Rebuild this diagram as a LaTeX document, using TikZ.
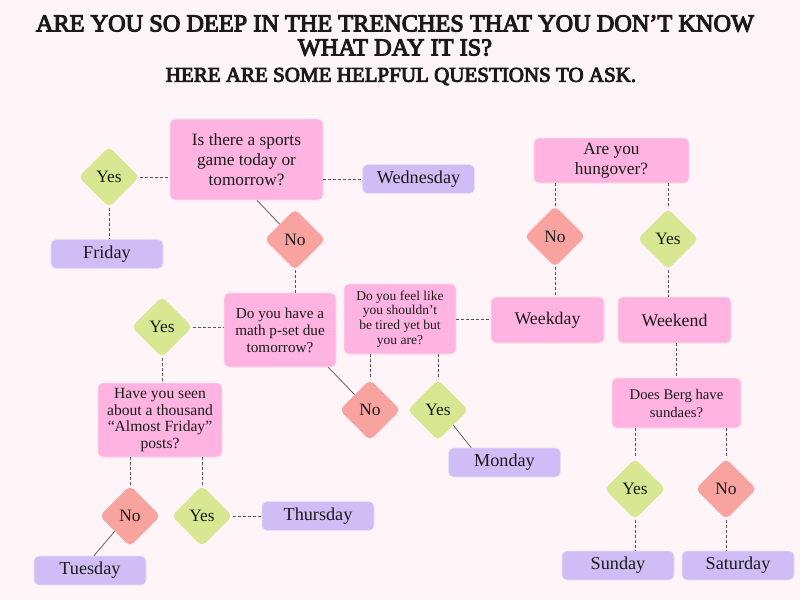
\documentclass[tikz,border=0pt]{standalone}
\usepackage{fontspec}
\setmainfont{Liberation Serif}
\newfontfamily\titlefont{Liberation Serif}[FakeBold=4.2]
\usetikzlibrary{shapes.geometric,calc}
\definecolor{bg}{HTML}{FFF5F9}
\definecolor{qpink}{HTML}{FFB3E1}
\definecolor{dpurple}{HTML}{D0BDF6}
\definecolor{ygreen}{HTML}{D8E892}
\definecolor{nred}{HTML}{F9A3A0}
\definecolor{lnk}{HTML}{555555}
\definecolor{ink}{HTML}{1A1A1A}
\begin{document}
\begin{tikzpicture}[x=1pt,y=-1pt,
  qbox/.style={fill=qpink, draw=white!50!qpink, line width=0.6pt, rounded corners=5pt, align=center, inner sep=0pt, text=ink},
  dbox/.style={fill=dpurple, draw=white!50!dpurple, line width=0.6pt, rounded corners=5pt, inner sep=0pt, text=ink,
    minimum width=112pt, minimum height=29pt, font=\fontsize{18.2}{20}\selectfont},
  dia/.style={diamond, rounded corners=5pt, minimum width=61pt, minimum height=61pt, inner sep=0pt, text=ink,
    font=\fontsize{17.4}{18}\selectfont},
  yesd/.style={dia, fill=ygreen},
  nod/.style={dia, fill=nred},
  dl/.style={draw=lnk, dash pattern=on 3pt off 2pt, line width=1pt},
  sl/.style={draw=lnk, line width=0.7pt}]
\fill[bg] (0,0) rectangle (800,600);
\useasboundingbox (0,0) rectangle (800,600);

% titles
\node[font=\titlefont\fontsize{24.3}{24}\selectfont, align=center, text=ink] (t1) at (395,35.5)
  {ARE YOU SO DEEP IN THE TRENCHES THAT YOU DON’T KNOW\\WHAT DAY IT IS?};
\node[font=\titlefont\fontsize{21}{22}\selectfont, text=ink] (t2) at (401,76.5) {HERE ARE SOME HELPFUL QUESTIONS TO ASK.};

% questions
\node[qbox, minimum width=153pt, minimum height=81pt, font=\fontsize{17.3}{20}\selectfont] (q1) at (246.5,159.5)
  {Is there a sports\\game today or\\tomorrow?};
\node[qbox, minimum width=112pt, minimum height=74pt, font=\fontsize{15.2}{17}\selectfont] (q2) at (280,330)
  {Do you have a\\math p-set due\\tomorrow?};
\node[qbox, minimum width=124pt, minimum height=74pt, font=\fontsize{15.6}{16.5}\selectfont] (q3) at (160,420)
  {Have you seen\\about a thousand\\“Almost Friday”\\posts?};
\node[qbox, minimum width=112pt, minimum height=70pt, font=\fontsize{13.5}{14.7}\selectfont] (q4) at (400,319)
  {Do you feel like\\you shouldn’t\\be tired yet but\\you are?};
\node[qbox, minimum width=155pt, minimum height=45pt, font=\fontsize{17.3}{20}\selectfont] (q5) at (611.5,160.5)
  {Are you\\hungover?};
\node[qbox, minimum width=113pt, minimum height=46pt, font=\fontsize{17.8}{20}\selectfont] (wd) at (547.5,320) {Weekday};
\node[qbox, minimum width=113pt, minimum height=46pt, font=\fontsize{17.8}{20}\selectfont] (we) at (674.5,320) {Weekend};
\node[qbox, minimum width=129pt, minimum height=50pt, font=\fontsize{14.7}{18}\selectfont] (q6) at (676.5,403)
  {Does Berg have\\sundaes?};

% diamonds
\node[yesd] (y1) at (109,177) {Yes};
\node[nod]  (n1) at (295,239.5) {No};
\node[yesd] (y2) at (162,327) {Yes};
\node[nod]  (n3) at (130,516) {No};
\node[yesd] (y3) at (202,516) {Yes};
\node[nod]  (n4) at (370,410) {No};
\node[yesd] (y4) at (438,410) {Yes};
\node[nod]  (n5) at (555,236.5) {No};
\node[yesd] (y5) at (668,239) {Yes};
\node[yesd] (y6) at (635,489) {Yes};
\node[nod]  (n6) at (726,489) {No};

% days
\node[dbox] (fri) at (107,254) {Friday};
\node[dbox] (wed) at (418.5,179) {Wednesday};
\node[dbox] (tue) at (90,570.5) {Tuesday};
\node[dbox] (thu) at (318,516) {Thursday};
\node[dbox] (mon) at (504.5,462.5) {Monday};
\node[dbox] (sun) at (618,565.5) {Sunday};
\node[dbox] (sat) at (738,565.5) {Saturday};

% connectors
\draw[dl] (y1.east) -- (y1.east -| q1.west);
\draw[dl] (y1.south) -- (y1.south |- fri.north);
\draw[dl] (q1.east |- wed.west) -- (wed.west);
\draw[sl] ($(q1.south)+(10.5,0)$) -- (n1.north west);
\draw[dl] (n1.south) -- (n1.south |- q2.north);
\draw[dl] (y2.east) -- (y2.east -| q2.west);
\draw[dl] (y2.south) -- (y2.south |- q3.north);
\draw[sl] ($(q2.south east)+(-8,0)$) -- (n4.north west);
\draw[dl] (n3.north |- q3.south) -- (n3.north);
\draw[dl] (y3.north |- q3.south) -- (y3.north);
\draw[sl] (n3.south west) -- ($(tue.north)+(4,0)$);
\draw[dl] (y3.east) -- (y3.east -| thu.west);
\draw[dl] (n4.north |- q4.south) -- (n4.north);
\draw[dl] (y4.north |- q4.south) -- (y4.north);
\draw[sl] (y4.south east) -- ($(mon.north west)+(23,0)$);
\draw[dl] (q4.east) -- (q4.east -| wd.west);
\draw[dl] (n5.north |- q5.south) -- (n5.north);
\draw[dl] (n5.south) -- (n5.south |- wd.north);
\draw[dl] (y5.north |- q5.south) -- (y5.north);
\draw[dl] (y5.south) -- (y5.south |- we.north);
\draw[dl] (we.south -| q6.north) -- (q6.north);
\draw[dl] (y6.north |- q6.south) -- (y6.north);
\draw[dl] (n6.north |- q6.south) -- (n6.north);
\draw[dl] (y6.south) -- (y6.south |- sun.north);
\draw[dl] (n6.south) -- (n6.south |- sat.north);
\end{tikzpicture}
\end{document}
